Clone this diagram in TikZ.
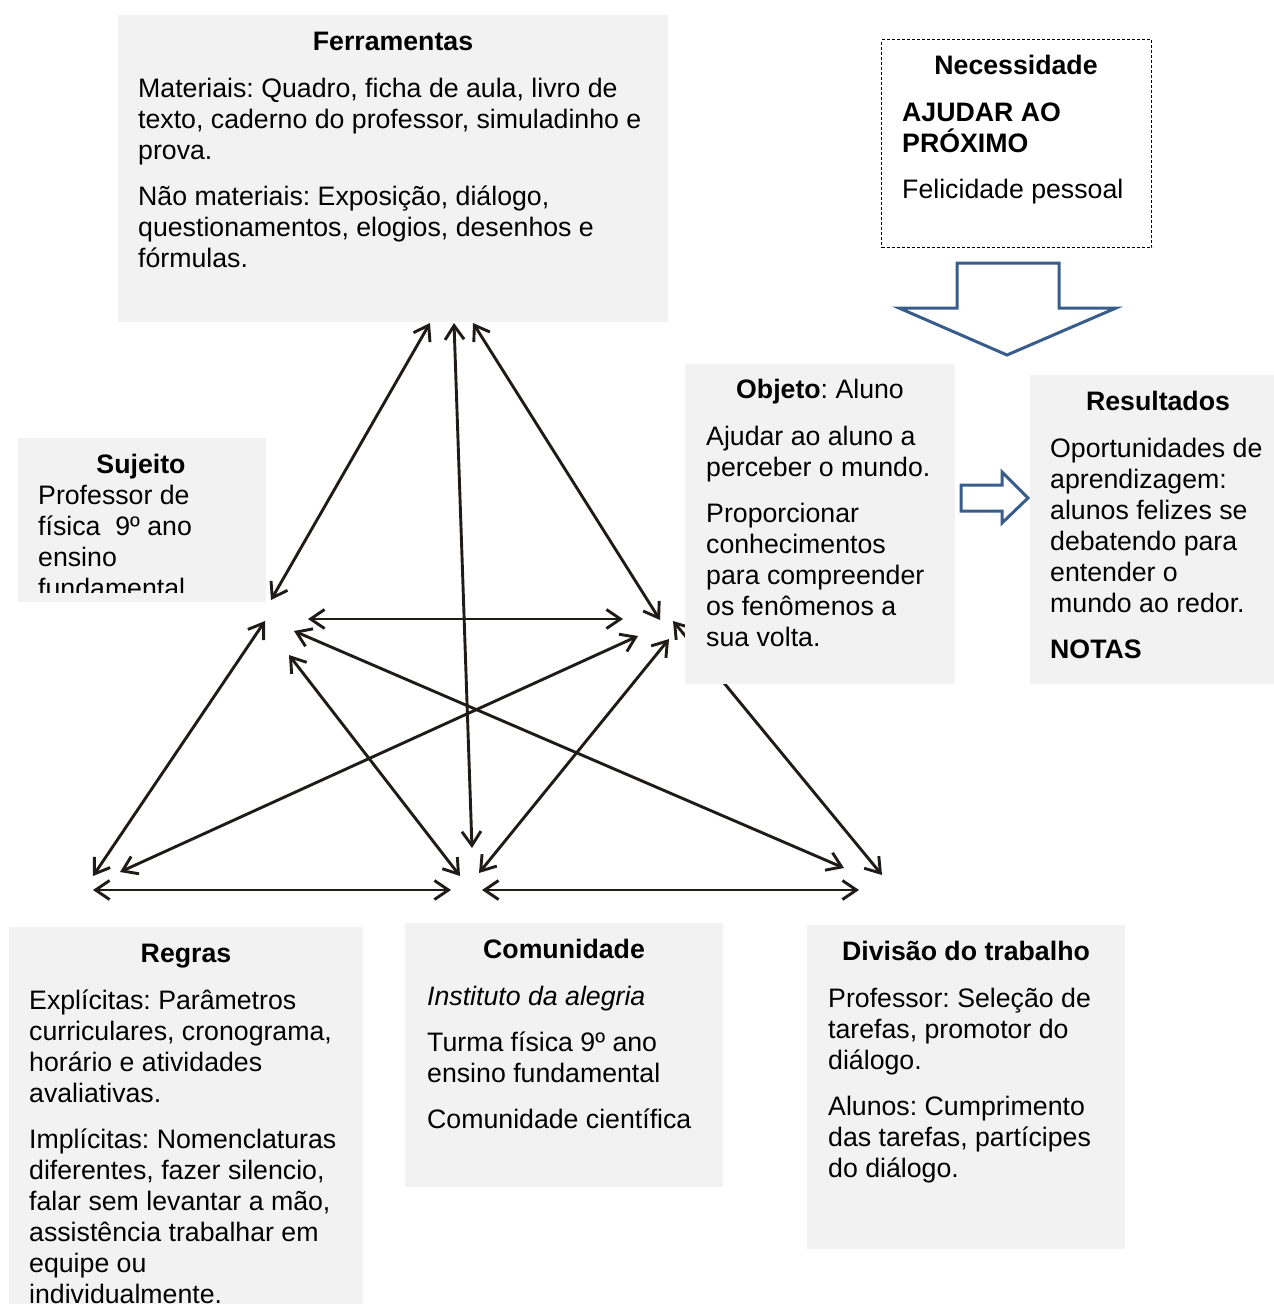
\documentclass[tikz,border=0pt]{standalone}
\usepackage{fontspec}
\setmainfont{Liberation Sans}
\usetikzlibrary{arrows.meta}
\frenchspacing
\definecolor{boxgrey}{HTML}{F2F2F2}
\definecolor{inkline}{HTML}{1E1B18}
\definecolor{blockblue}{HTML}{385D8A}
% fixed height for the first row of every text block, so that the
% block's top lies a known distance above its first baseline
\newcommand{\firstrow}{\rule{0pt}{22pt}}
\begin{document}
\begin{tikzpicture}[x=1pt,y=-1pt,
  txt/.style={inner sep=0pt, font=\fontsize{26.7}{31}\selectfont, align=left, anchor=north west, yshift=22pt},
  line/.style={inner sep=0pt, font=\fontsize{26.7}{31}\selectfont, anchor=base west},
  ttl/.style={inner sep=0pt, font=\fontsize{26.7}{31}\selectfont\bfseries, anchor=base},
  panel/.style={fill=boxgrey, draw=none, inner sep=0pt, anchor=north west},
  barb/.tip={Straight Barb[length=14pt,width=19pt]},
  link/.style={draw=inkline, line width=2.9pt, barb-barb},
  block/.style={draw=blockblue, line width=3pt, fill=white, line join=miter}
]
\useasboundingbox (0,0) rectangle (1274,1304);

% end points of the links
\coordinate (fS) at (430,323);  \coordinate (sF) at (271,600);
\coordinate (fC) at (454,323);  \coordinate (cF) at (472,848);
\coordinate (fO) at (473,323);  \coordinate (oF) at (660,620);
\coordinate (sO) at (308,619);  \coordinate (oS) at (623,619);
\coordinate (sR) at (265,621);  \coordinate (rS) at (93,876);
\coordinate (sD) at (294,631);  \coordinate (dS) at (844,868);
\coordinate (sC) at (289,655);  \coordinate (cS) at (460,876);
\coordinate (oR) at (638,636);  \coordinate (rO) at (120,872);
\coordinate (oC) at (669,639);  \coordinate (cO) at (479,873);
\coordinate (oD) at (673,621);  \coordinate (dO) at (882,875);
\coordinate (rC) at (93,890);   \coordinate (cR) at (451,890);
\coordinate (cD) at (482,890);  \coordinate (dC) at (859,890);

% links of the activity system
\draw[link] (fS) -- (sF);
\draw[link] (fC) -- (cF);
\draw[link] (fO) -- (oF);
\draw[link] (sO) -- (oS);
\draw[link] (sR) -- (rS);
\draw[link] (sD) -- (dS);
\draw[link] (sC) -- (cS);
\draw[link] (oR) -- (rO);
\draw[link] (oC) -- (cO);
\draw[link] (oD) -- (dO);
\draw[link] (rC) -- (cR);
\draw[link] (cD) -- (dC);

% Ferramentas
\node[panel, minimum width=550pt, minimum height=307pt] (ferr) at (118,15) {};
\node[ttl] (ferrT) at (393,50) {Ferramentas};
\node[txt] (ferrB) at (138,97) {\firstrow Materiais: Quadro, ficha de aula, livro de\\
texto, caderno do professor, simuladinho e\\
prova.\\[15pt]
Não materiais: Exposição, diálogo,\\
questionamentos, elogios, desenhos e\\
fórmulas.};

% Necessidade
\node[draw=black, line width=1pt, dash pattern=on 3pt off 2pt, inner sep=0pt,
      anchor=north west, minimum width=270pt, minimum height=208pt] (nec) at (881,39) {};
\node[ttl] (necT) at (1016,74) {Necessidade};
\node[txt, font=\fontsize{26.7}{31}\selectfont\bfseries] (necA) at (902,121) {\firstrow AJUDAR AO\\PRÓXIMO};
\node[line] (necB) at (902,198) {Felicidade pessoal};

% block arrow from Necessidade
\draw[block] (957,263) -- (1059,263) -- (1059,308) -- (1116,308) -- (1007,355)
  -- (899,308) -- (957,308) -- cycle;

% Sujeito
\node[panel, minimum width=248pt, minimum height=164pt] (suj) at (18,438) {};
\node[ttl] (sujT) at (141,473) {Sujeito};
\begin{scope}
\clip (18,438) rectangle (266,592);
\node[txt] (sujB) at (38,504) {\firstrow Professor de\\física~ 9º ano\\ensino\\fundamental};
\end{scope}

% Objeto
\node[panel, minimum width=270pt, minimum height=320pt] (obj) at (685,364) {};
\node[inner sep=0pt, font=\fontsize{26.7}{31}\selectfont, anchor=base] (objT) at (820,398) {\textbf{Objeto}: Aluno};
\node[txt] (objB) at (706,445) {\firstrow Ajudar ao aluno a\\
perceber o mundo.\\[15pt]
Proporcionar\\
conhecimentos\\
para compreender\\
os fenômenos a\\
sua volta.};

% block arrow towards Resultados
\draw[block] (961,485) -- (1002,485) -- (1002,472) -- (1028,498) -- (1002,523)
  -- (1002,511) -- (961,511) -- cycle;

% Resultados
\node[panel, minimum width=244pt, minimum height=309pt] (res) at (1030,375) {};
\node[ttl] (resT) at (1158,410) {Resultados};
\node[txt] (resB) at (1050,457) {\firstrow Oportunidades de\\
aprendizagem:\\
alunos felizes se\\
debatendo para\\
entender o\\
mundo ao redor.\\[15pt]
\textbf{NOTAS}};

% Regras
\node[panel, minimum width=354pt, minimum height=390pt] (reg) at (9,927) {};
\node[ttl] (regT) at (186,962) {Regras};
\node[txt] (regB) at (29,1009) {\firstrow Explícitas: Parâmetros\\
curriculares, cronograma,\\
horário e atividades\\
avaliativas.\\[15pt]
Implícitas: Nomenclaturas\\
diferentes, fazer silencio,\\
falar sem levantar a mão,\\
assistência trabalhar em\\
equipe ou\\
individualmente.};

% Comunidade
\node[panel, minimum width=318pt, minimum height=264pt] (com) at (405,923) {};
\node[ttl] (comT) at (564,958) {Comunidade};
\node[txt] (comB) at (427,1005) {\firstrow\textit{Instituto da alegria}\\[15pt]
Turma física 9º ano\\
ensino fundamental\\[15pt]
Comunidade científica};

% Divisão do trabalho
\node[panel, minimum width=318pt, minimum height=324pt] (div) at (807,925) {};
\node[ttl] (divT) at (966,960) {Divisão do trabalho};
\node[txt] (divB) at (828,1007) {\firstrow Professor: Seleção de\\
tarefas, promotor do\\
diálogo.\\[15pt]
Alunos: Cumprimento\\
das tarefas, partícipes\\
do diálogo.};

\end{tikzpicture}
\end{document}
